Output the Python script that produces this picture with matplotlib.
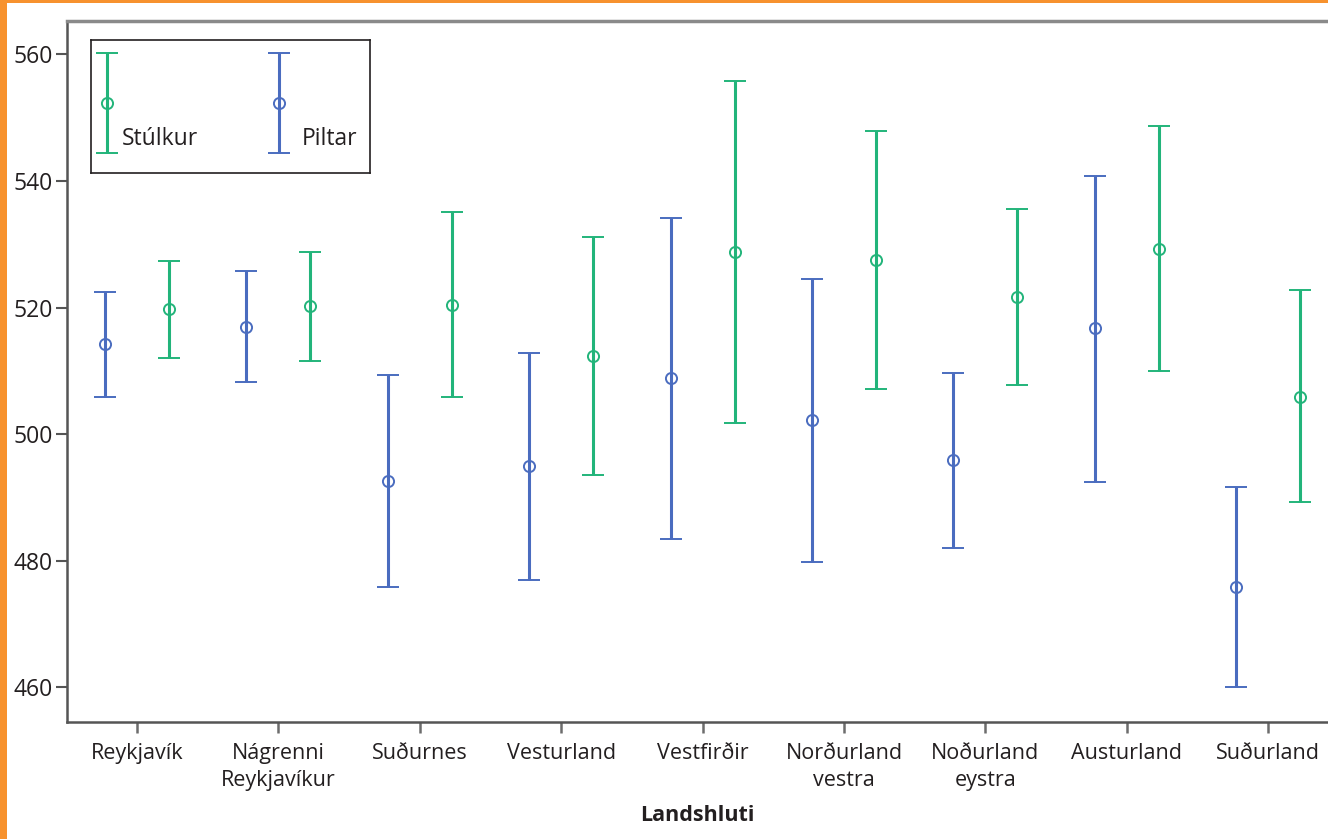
import matplotlib
matplotlib.use("Agg")
import matplotlib.pyplot as plt
import numpy as np

plt.rcParams['font.family'] = ['Open Sans', 'DejaVu Sans']

categories = ["Reykjavík", "Nágrenni\nReykjavíkur", "Suðurnes", "Vesturland", "Vestfirðir",
              "Norðurland\nvestra", "Noðurland\neystra", "Austurland", "Suðurland"]

# Piltar (boys)
piltar_mean  = [514.2, 517.0, 492.6, 494.9, 508.8, 502.2, 495.9, 516.7, 475.8]
piltar_low   = [505.9, 508.2, 475.9, 476.9, 483.5, 479.8, 482.0, 492.5, 460.1]
piltar_high  = [522.5, 525.8, 509.3, 512.8, 534.1, 524.5, 509.7, 540.8, 491.6]

# Stúlkur (girls)
stulkur_mean = [519.8, 520.3, 520.4, 512.4, 528.7, 527.5, 521.6, 529.2, 505.9]
stulkur_low  = [512.1, 511.6, 505.8, 493.5, 501.7, 507.1, 507.7, 510.0, 489.3]
stulkur_high = [527.4, 528.8, 535.1, 531.2, 555.8, 547.9, 535.6, 548.6, 522.7]

yticks = [460, 480, 500, 520, 540, 560]

GREEN = "#22b47a"
BLUE = "#4a6cbf"
ORANGE = "#f7922e"

fig = plt.figure(figsize=(13.28, 8.39), dpi=100)
fig.patch.set_facecolor("white")

# orange frame strips
fig.add_artist(plt.Rectangle((0, 0), 7/1328, 1, transform=fig.transFigure, color=ORANGE, lw=0, zorder=0))
fig.add_artist(plt.Rectangle((0, 1-2.5/839), 1, 2.5/839, transform=fig.transFigure, color=ORANGE, lw=0, zorder=0))

ax = fig.add_axes([67/1328, 1-722.3/839, 1-67/1328, (722.3-20.7)/839])

x = np.arange(len(categories))
off = 0.226
pm = np.array(piltar_mean); sm = np.array(stulkur_mean)
perr = [pm - np.array(piltar_low), np.array(piltar_high) - pm]
serr = [sm - np.array(stulkur_low), np.array(stulkur_high) - sm]

kw = dict(fmt='o', mfc='none', markersize=8, mew=1.4, elinewidth=2.2, capsize=8, capthick=2.4)
ax.errorbar(x - off, pm, yerr=perr, color=BLUE, ecolor=BLUE, mec=BLUE, **kw)
ax.errorbar(x + off, sm, yerr=serr, color=GREEN, ecolor=GREEN, mec=GREEN, **kw)

ax.set_xlim(-0.495, (1328-137)/141.4)
ax.set_ylim(454.5, 565.3)
ax.set_xticks(x)
ax.set_xticklabels(categories, fontsize=15.5, color="#231f20", linespacing=1.35)
ax.set_yticks(yticks)
ax.set_yticklabels([str(t) for t in yticks], fontsize=16.5, color="#231f20")
ax.tick_params(axis='x', length=8, width=1.8, color="#6d6d6d", pad=7)
ax.tick_params(axis='y', length=8, width=1.5, color="#555555", pad=2)
ax.set_xlabel("Landshluti", fontsize=15.5, fontweight='bold', color="#231f20", labelpad=10)

for s in ['left', 'bottom']:
    ax.spines[s].set_color("#555555")
    ax.spines[s].set_linewidth(1.8)
ax.spines['top'].set_color("#8a8a8a")
ax.spines['top'].set_linewidth(2.5)
ax.spines['right'].set_visible(False)

# custom legend box
lax = fig.add_axes([91/1328, 1-173/839, (370-91)/1328, (173-40)/839])
lax.set_xlim(91, 370)
lax.set_ylim(173, 40)
lax.set_xticks([]); lax.set_yticks([])
for s in lax.spines.values():
    s.set_color("#231f20"); s.set_linewidth(1.2)
legend_items = [("Stúlkur", GREEN, 106.5, 122), ("Piltar", BLUE, 279, 302)]
for name, col, gx, tx in legend_items:
    lax.errorbar([gx], [103], yerr=[[50], [50]], fmt='o', mfc='none', color=col, mec=col,
                 markersize=8, mew=1.4, elinewidth=2.2, capsize=8, capthick=2.4)
    lax.text(tx, 139, name, fontsize=16.5, color="#231f20", va='center', ha='left')

fig.savefig("out.png", dpi=100)
